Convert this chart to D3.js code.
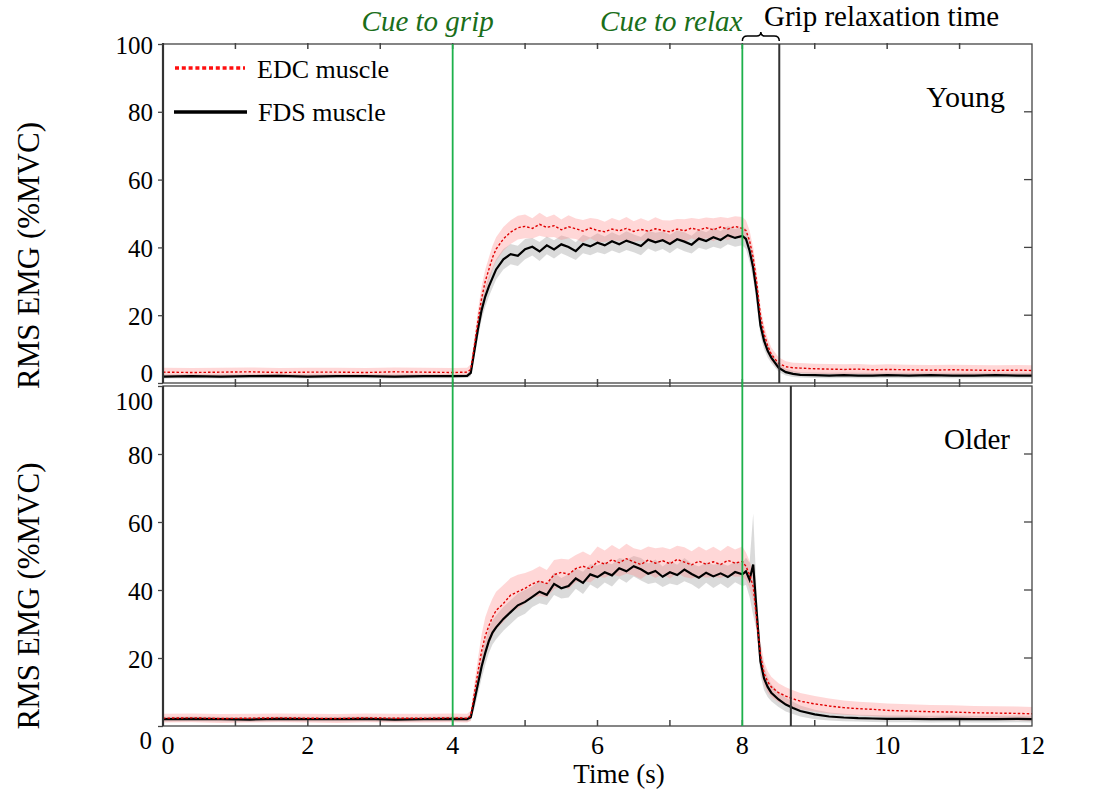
<!DOCTYPE html>
<html><head><meta charset="utf-8">
<script src="https://cdn.jsdelivr.net/npm/d3@7"></script>
<style>html,body{margin:0;padding:0;background:#fff}svg{display:block}text{font-family:"Liberation Serif","Times New Roman",serif}</style>
</head><body>
<svg id="chart" width="1120" height="792"></svg>
<script>
// ---- data ----
const time = [0,0.4,0.8,1.2,1.6,2.0,2.4,2.8,3.2,3.6,4.0,4.2,
  4.25,4.3,4.35,4.4,4.45,4.5,4.55,4.6,4.7,4.8,4.9,5.0,
  5.1,5.2,5.3,5.4,5.5,5.6,5.7,5.8,5.9,6.0,6.1,6.2,6.3,6.4,6.5,6.6,6.7,6.8,6.9,7.0,
  7.1,7.2,7.3,7.4,7.5,7.6,7.7,7.8,7.9,8.0,
  8.05,8.1,8.15,8.2,8.25,8.3,8.35,8.4,8.5,8.6,8.7,8.8,9.0,9.2,9.4,9.6,9.8,10.0,
  10.3,10.6,10.9,11.2,11.5,11.8,12.0];

const youngFDS = [1.9,2.0,1.9,2.0,2.1,1.9,2.0,2.0,1.9,2.0,2.0,2.1,
  3.0,9.5,16.0,21.5,25.5,28.5,31.0,33.5,36.5,38.0,37.5,39.5,
  40.2,38.8,40.6,39.4,40.9,40.1,38.9,41.0,40.3,41.4,40.6,41.8,40.9,42.0,41.2,40.4,42.3,41.5,42.1,41.0,
  42.4,41.7,40.8,42.6,41.9,43.0,42.2,43.6,42.8,43.4,
  42.5,39.0,34.0,26.5,17.0,12.5,9.5,7.5,4.5,3.2,2.7,2.4,2.3,2.2,2.3,2.2,2.2,2.3,
  2.2,2.3,2.2,2.2,2.3,2.2,2.2];
const youngFDSsd = [0.6,0.6,0.6,0.6,0.6,0.6,0.6,0.6,0.6,0.6,0.6,0.6,
  1.0,2.0,2.5,2.8,3.0,3.0,3.0,3.0,3.0,3.0,3.0,3.0,
  2.6,2.8,2.6,2.7,2.6,2.8,2.6,2.7,2.6,2.8,2.6,2.7,2.6,2.8,2.6,2.7,2.6,2.8,2.6,2.7,
  2.6,2.8,2.6,2.7,2.6,2.8,2.6,2.7,2.6,2.8,
  3.0,3.2,3.5,3.5,3.0,2.5,2.0,1.6,1.2,1.0,0.9,0.8,0.8,0.8,0.8,0.8,0.8,0.8,
  0.8,0.8,0.8,0.8,0.8,0.8,0.8];
const youngEDC = [3.2,3.1,3.2,3.3,3.1,3.2,3.2,3.1,3.3,3.2,3.1,3.2,
  4.0,11.0,18.5,25.0,30.0,33.5,37.0,39.5,42.5,44.5,45.8,46.2,
  45.6,46.8,45.9,46.4,45.2,46.1,45.5,44.8,45.7,45.0,44.6,45.4,44.9,45.6,44.7,45.3,44.8,45.5,45.0,44.6,
  45.4,44.9,45.7,45.1,45.8,45.2,46.0,45.4,46.2,45.6,
  45.0,42.0,37.0,29.5,20.0,14.5,11.0,8.5,5.8,4.8,4.5,4.4,4.2,4.1,4.0,4.1,3.9,4.0,
  3.9,3.8,3.9,3.8,3.7,3.8,3.7];
const youngEDCsd = [1.3,1.3,1.3,1.3,1.3,1.3,1.3,1.3,1.3,1.3,1.3,1.3,
  1.5,2.5,3.0,3.5,3.5,3.5,3.5,3.5,3.5,3.5,3.5,3.5,
  3.0,3.4,3.0,3.3,3.0,3.4,3.0,3.3,3.0,3.4,3.0,3.3,3.0,3.4,3.0,3.3,3.0,3.4,3.0,3.3,
  3.0,3.4,3.0,3.3,3.0,3.4,3.0,3.3,3.0,3.4,
  3.0,3.0,3.0,3.0,2.8,2.5,2.2,2.0,1.8,1.6,1.5,1.5,1.5,1.5,1.5,1.5,1.5,1.5,
  1.5,1.5,1.5,1.5,1.5,1.5,1.5];

const olderFDS = [2.0,2.1,2.0,1.9,2.1,2.0,2.0,2.1,1.9,2.0,2.1,2.0,
  2.6,7.5,12.5,17.5,21.5,25.0,27.5,29.0,31.5,33.5,35.5,36.5,
  38.0,39.5,38.6,41.8,40.5,41.2,43.4,42.1,44.6,43.8,45.2,44.3,46.4,45.5,47.0,46.1,44.8,45.6,43.9,45.2,
  44.4,46.0,44.7,43.6,45.1,44.0,44.9,43.8,45.3,44.6,
  45.5,43.0,47.5,33.0,19.0,14.0,11.5,9.8,7.8,6.3,5.3,4.4,3.4,2.8,2.5,2.3,2.2,2.1,
  2.1,2.0,2.1,2.0,2.0,2.1,2.0];
const olderFDSsd = [0.7,0.7,0.7,0.7,0.7,0.7,0.7,0.7,0.7,0.7,0.7,0.7,
  1.0,2.5,3.0,3.5,3.5,3.5,3.5,3.5,3.5,3.5,3.5,3.5,
  3.0,3.4,3.0,3.3,3.0,3.4,3.0,3.3,3.0,3.4,3.0,3.3,3.0,3.4,3.0,3.3,3.0,3.4,3.0,3.3,
  3.0,3.4,3.0,3.3,3.0,3.4,3.0,3.3,3.0,3.4,
  4.0,5.0,15.0,5.0,4.0,3.5,3.0,2.5,2.2,2.0,1.8,1.6,1.4,1.2,1.1,1.0,1.0,1.0,
  1.0,1.0,1.0,1.0,1.0,1.0,1.0];
const olderEDC = [2.3,2.4,2.2,2.3,2.4,2.3,2.2,2.4,2.3,2.3,2.4,2.3,
  3.0,9.5,16.0,22.0,26.5,29.5,32.0,34.0,36.0,38.5,39.5,40.5,
  41.8,42.6,41.9,44.5,45.2,44.6,46.3,47.0,46.2,48.4,47.6,48.9,48.0,49.2,48.3,47.5,48.8,47.9,48.6,47.7,
  49.0,48.2,47.4,48.5,47.6,48.3,47.5,48.7,47.9,48.4,
  47.0,44.5,41.0,31.0,21.0,15.5,13.0,11.5,9.8,8.8,8.0,7.3,6.5,5.9,5.4,5.1,4.9,4.6,
  4.4,4.2,4.1,3.9,3.8,3.7,3.6];
const olderEDCsd = [1.3,1.3,1.3,1.3,1.3,1.3,1.3,1.3,1.3,1.3,1.3,1.3,
  1.5,3.0,4.0,5.0,5.5,5.5,5.5,5.5,5.5,5.0,5.0,4.5,
  4.0,4.4,4.0,4.3,4.0,4.4,4.0,4.3,4.0,4.4,4.0,4.3,4.0,4.4,4.0,4.3,4.0,4.4,4.0,4.3,
  4.0,4.4,4.0,4.3,4.0,4.4,4.0,4.3,4.0,4.4,
  4.0,4.0,4.0,4.0,3.8,3.5,3.2,3.0,2.8,2.6,2.5,2.4,2.3,2.2,2.1,2.0,2.0,2.0,
  2.0,2.0,2.0,2.0,2.0,2.0,2.0];

const cueGrip = 4.0, cueRelax = 8.0;
const relaxYoung = 8.51, relaxOlder = 8.67;
const yTicks = [0,20,40,60,80,100];
const xLabelTicks = [0,2,4,6,8,10,12];
const xMinorTicks = [1,2,3,4,5,6,7,8,9,10,11];
const seriesNames = ["EDC muscle","FDS muscle"];
const panelNames = ["Young","Older"];
const yTitle = "RMS EMG (%MVC)";
const xTitle = "Time (s)";

// ---- drawing ----
const svg = d3.select("#chart");
const x = d3.scaleLinear([0,12],[163,1032]);
const panels = [
  {name:panelNames[0], y:d3.scaleLinear([0,100],[383,44]), edc:youngEDC, edcSd:youngEDCsd, fds:youngFDS, fdsSd:youngFDSsd, relax:relaxYoung},
  {name:panelNames[1], y:d3.scaleLinear([0,100],[726,386]), edc:olderEDC, edcSd:olderEDCsd, fds:olderFDS, fdsSd:olderFDSsd, relax:relaxOlder}
];
const axisCol = "#444";

panels.forEach((p,pi)=>{
  const y = p.y;
  const g = svg.append("g");
  const cid = "clip"+pi;
  svg.append("clipPath").attr("id",cid).append("rect")
    .attr("x",x(0)).attr("y",y(100)).attr("width",x(12)-x(0)).attr("height",y(0)-y(100));
  const dg = g.append("g").attr("clip-path",`url(#${cid})`);
  const band = (m,s)=>d3.area().x((d,i)=>x(time[i])).y0((d,i)=>y(Math.max(0,m[i]-s[i]))).y1((d,i)=>y(m[i]+s[i]));
  const line = (m)=>d3.line().x((d,i)=>x(time[i])).y((d,i)=>y(m[i]));
  dg.append("path").datum(time).attr("d",band(p.fds,p.fdsSd)).attr("fill","rgba(150,150,150,0.35)");
  dg.append("path").datum(time).attr("d",band(p.edc,p.edcSd)).attr("fill","rgba(255,140,140,0.35)");
  dg.append("path").datum(time).attr("d",line(p.fds)).attr("fill","none").attr("stroke","#000").attr("stroke-width",2.2);
  dg.append("path").datum(time).attr("d",line(p.edc)).attr("fill","none").attr("stroke","#e00000").attr("stroke-width",1.4).attr("stroke-dasharray","2.5,2");

  // frame
  g.append("rect").attr("x",x(0)).attr("y",y(100)).attr("width",x(12)-x(0)).attr("height",y(0)-y(100))
    .attr("fill","none").attr("stroke",axisCol).attr("stroke-width",1.3);
  g.append("line").attr("x1",x(0)).attr("x2",x(0)).attr("y1",y(100)-(pi===0?1:0)).attr("y2",y(0))
    .attr("stroke","#333").attr("stroke-width",2.2);
  // left y ticks + labels
  const ax = d3.axisLeft(y).tickValues(yTicks).tickSize(5).tickPadding(5).tickFormat(d3.format("d"));
  const ag = g.append("g").attr("transform",`translate(${x(0)},0)`).call(ax);
  ag.select(".domain").remove();
  ag.selectAll("line").attr("stroke",axisCol).attr("stroke-width",1.3);
  ag.selectAll("text").attr("font-size",25).attr("fill","#000").attr("font-family","Liberation Serif, serif")
    .attr("dy",d=>{
      if(pi===0 && d===0) return "-0.08em";
      if(pi===0) return "0.36em";
      if(d===100) return "0.92em";
      if(d===0) return "0.9em";
      return "0.36em";
    })
    .attr("x",d=>(pi===1 && d===0)?-11:-10);
  // right ticks
  g.selectAll(".rt").data(yTicks.slice(1,5)).join("line")
    .attr("x1",x(12)).attr("x2",x(12)-8).attr("y1",d=>y(d)).attr("y2",d=>y(d))
    .attr("stroke",axisCol).attr("stroke-width",1.3);
  // top ticks / bottom ticks
  if(pi===0){
    g.selectAll(".tt").data(xMinorTicks).join("line")
      .attr("x1",d=>x(d)).attr("x2",d=>x(d)).attr("y1",y(100)-1).attr("y2",y(100)+5)
      .attr("stroke",axisCol).attr("stroke-width",1.5);
    g.selectAll(".bt").data(xMinorTicks).join("line")
      .attr("x1",d=>x(d)).attr("x2",d=>x(d)).attr("y1",y(0)-4).attr("y2",y(0)+4)
      .attr("stroke",axisCol).attr("stroke-width",1.5);
  } else {
    g.selectAll(".bt").data(xMinorTicks).join("line")
      .attr("x1",d=>x(d)).attr("x2",d=>x(d)).attr("y1",y(0)).attr("y2",y(0)-6)
      .attr("stroke",axisCol).attr("stroke-width",1.5);
    g.selectAll(".xl").data(xLabelTicks).join("text")
      .attr("x",d=>x(d)+(d===0?5:0)).attr("y",y(0)+28).attr("text-anchor","middle")
      .attr("font-size",26).text(d=>d);
  }
  // grip relaxation line
  g.append("line").attr("x1",x(p.relax)).attr("x2",x(p.relax)).attr("y1",y(100)).attr("y2",y(0))
    .attr("stroke","#333").attr("stroke-width",2);
  // panel name
  g.append("text").attr("x",x(12)-(pi===0?27:22)).attr("y",y(100)+63).attr("text-anchor","end")
    .attr("font-size",pi===0?30:29).text(p.name);
  // y title
  g.append("text").attr("transform",`translate(39,${(y(0)+y(100))/2+(pi===0?42:40)}) rotate(-90)`)
    .attr("text-anchor","middle").attr("font-size",31).text(yTitle);
});

// cue lines spanning both panels
const yTop = panels[0].y(100), yBot = panels[1].y(0);
[cueGrip,cueRelax].forEach(t=>{
  svg.append("line").attr("x1",x(t)).attr("x2",x(t)).attr("y1",yTop).attr("y2",yBot)
    .attr("stroke","#1db14b").attr("stroke-width",1.8);
});

// annotations
svg.append("text").attr("x",x(cueGrip)-25).attr("y",31).attr("text-anchor","middle")
  .attr("font-size",29).attr("font-style","italic").attr("fill","#1a6e1a").text("Cue to grip");
svg.append("text").attr("x",x(cueRelax)).attr("y",31).attr("text-anchor","end")
  .attr("font-size",29).attr("font-style","italic").attr("fill","#1a6e1a").text("Cue to relax");
svg.append("text").attr("x",764).attr("y",26).attr("text-anchor","start")
  .attr("font-size",29).attr("fill","#000").text("Grip relaxation time");
// brace
{
  const x0 = x(cueRelax), x1 = x(relaxYoung), xm = (x0+x1)/2, yb = 41, yt = 36, yp = 32;
  svg.append("path").attr("d",
    `M${x0},${yb} Q${x0},${yt} ${x0+5},${yt} L${xm-4},${yt} Q${xm},${yt} ${xm},${yp} Q${xm},${yt} ${xm+4},${yt} L${x1-5},${yt} Q${x1},${yt} ${x1},${yb}`)
    .attr("fill","none").attr("stroke","#000").attr("stroke-width",1.5);
}

// legend
svg.append("line").attr("x1",175).attr("x2",245).attr("y1",68).attr("y2",68)
  .attr("stroke","#ff1010").attr("stroke-width",3.5).attr("stroke-dasharray","4,2.8");
svg.append("text").attr("x",257).attr("y",78).attr("font-size",26).text(seriesNames[0]);
svg.append("line").attr("x1",174).attr("x2",247).attr("y1",112).attr("y2",112)
  .attr("stroke","#000").attr("stroke-width",3.5);
svg.append("text").attr("x",258).attr("y",121).attr("font-size",26).text(seriesNames[1]);

// x title
svg.append("text").attr("x",619).attr("y",783).attr("text-anchor","middle").attr("font-size",27).text(xTitle);
</script>
</body></html>
